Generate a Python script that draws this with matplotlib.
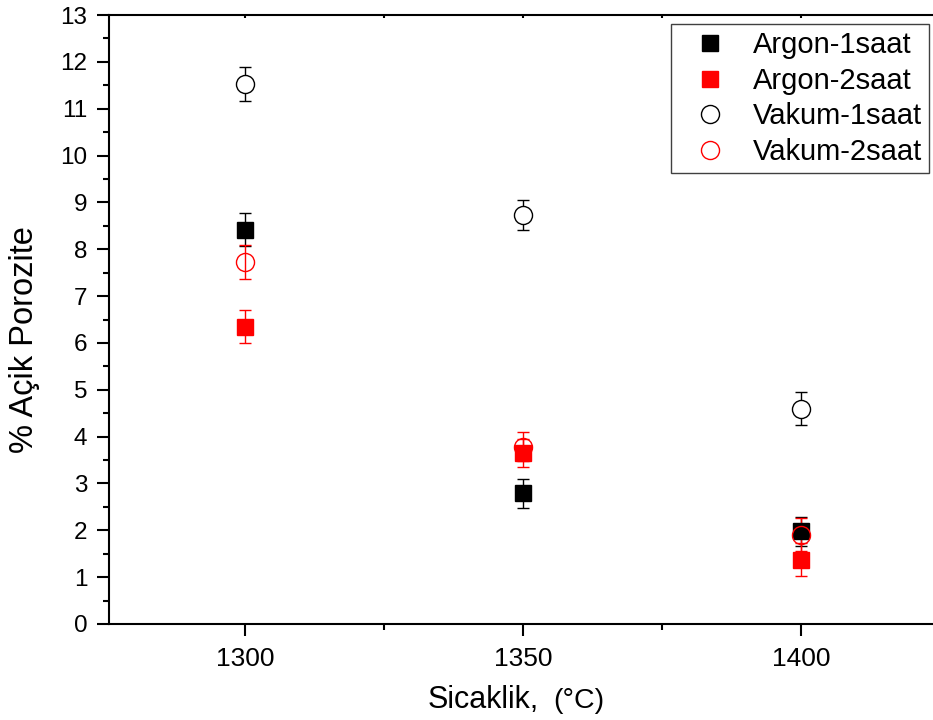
import matplotlib
matplotlib.use("Agg")
import matplotlib.pyplot as plt
from matplotlib.lines import Line2D
from matplotlib.ticker import MultipleLocator

plt.rcParams['font.family'] = ['Liberation Sans', 'DejaVu Sans']

temps = [1300, 1350, 1400]
argon1 = [8.42, 2.79, 1.98]
argon1_err = [0.35, 0.31, 0.31]
argon2 = [6.35, 3.65, 1.37]
argon2_err = [0.36, 0.30, 0.35]
vakum1 = [11.53, 8.73, 4.60]
vakum1_err = [0.36, 0.32, 0.35]
vakum2 = [7.72, 3.78, 1.91]
vakum2_err = [0.36, 0.31, 0.35]
labels = ["Argon-1saat", "Argon-2saat", "Vakum-1saat", "Vakum-2saat"]

W, H = 933, 720
fig = plt.figure(figsize=(W / 100, H / 100), dpi=100)
left, right, top, bottom = 109, 940, 15, 624
ax = fig.add_axes([left / W, (H - bottom) / H, (right - left) / W, (bottom - top) / H])

common = dict(linestyle='none', elinewidth=1.0, capsize=4.3, capthick=1.0)
ax.errorbar(temps, argon1, yerr=argon1_err, marker='s', ms=12, mfc='black', mec='black',
            ecolor='black', **common)
ax.errorbar(temps, argon2, yerr=argon2_err, marker='s', ms=12, mfc='red', mec='red',
            ecolor='red', **common)
ax.errorbar(temps, vakum1, yerr=vakum1_err, marker='o', ms=13, mfc='white', mec='black',
            mew=1.0, ecolor='black', **common)
ax.errorbar(temps, vakum2, yerr=vakum2_err, marker='o', ms=13, mfc='none', mec='red',
            mew=1.0, ecolor='red', **common)

ax.set_xlim(1275.5, 1425)
ax.set_ylim(0, 13)
ax.xaxis.set_major_locator(MultipleLocator(50))
ax.xaxis.set_minor_locator(MultipleLocator(25))
ax.yaxis.set_major_locator(MultipleLocator(1))
ax.yaxis.set_minor_locator(MultipleLocator(0.5))

for s in ax.spines.values():
    s.set_linewidth(1.5)

ax.tick_params(axis='both', which='major', direction='out', length=8.5, width=1.5)
ax.tick_params(axis='both', which='minor', direction='out', length=4.5, width=1.5)
ax.tick_params(axis='y', which='major', pad=7, labelsize=17.5)
ax.tick_params(axis='x', which='major', pad=8, labelsize=19)
ax.tick_params(axis='x', which='both', top=True, bottom=True)
for t in ax.xaxis.get_major_ticks() + ax.xaxis.get_minor_ticks():
    t.tick2line.set_marker(3)
    t.tick2line.set_markersize(2)

ax.set_ylabel("% Açik Porozite", fontsize=23.5)
ax.yaxis.set_label_coords((40 - left) / (right - left), (bottom - 340) / (bottom - top))

fig.text(428 / W, 1 - 708 / H, "Sicaklik,", fontsize=22, ha='left', va='baseline')
fig.text(553 / W, 1 - 708 / H, "(°C)", fontsize=20.5, ha='left', va='baseline')

handles = [
    Line2D([], [], marker='s', ms=12, mfc='black', mec='black', ls='none'),
    Line2D([], [], marker='s', ms=12, mfc='red', mec='red', ls='none'),
    Line2D([], [], marker='o', ms=13, mfc='white', mec='black', mew=1.0, ls='none'),
    Line2D([], [], marker='o', ms=13, mfc='none', mec='red', mew=1.0, ls='none'),
]
leg = fig.legend(handles, labels, loc='upper right',
                 bbox_to_anchor=(929 / W, 1 - 24 / H), borderaxespad=0,
                 fontsize=21, frameon=True, fancybox=False, framealpha=1,
                 edgecolor='#404040', borderpad=0.25, labelspacing=0.26,
                 handlelength=2.2, handletextpad=0.35)
leg.get_frame().set_linewidth(1.0)

fig.savefig("out.png", dpi=100)
